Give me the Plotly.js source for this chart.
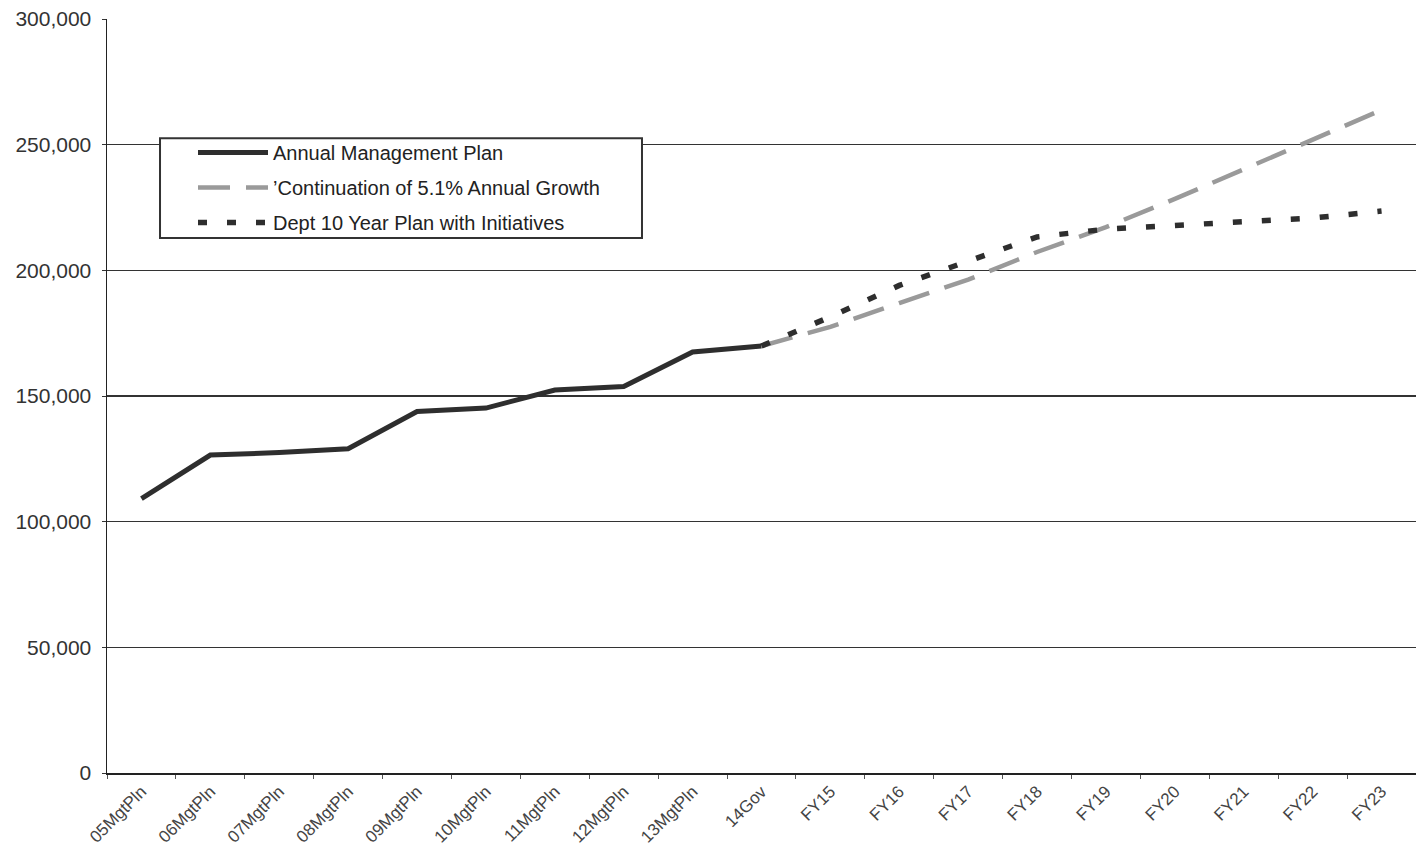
<!DOCTYPE html>
<html>
<head>
<meta charset="utf-8">
<script src="https://cdn.plot.ly/plotly-3.0.1.min.js"></script>
<style>html,body{margin:0;padding:0;background:#fff;}#chart{width:1416px;height:861px;}</style>
</head>
<body>
<div id="chart"></div>
<script>
// Category labels (x axis)
const categories = ["05MgtPln","06MgtPln","07MgtPln","08MgtPln","09MgtPln","10MgtPln","11MgtPln","12MgtPln","13MgtPln","14Gov",
  "FY15","FY16","FY17","FY18","FY19","FY20","FY21","FY22","FY23"];

// Annual Management Plan (05MgtPln .. 14Gov)
const annualCats = ["05MgtPln","06MgtPln","07MgtPln","08MgtPln","09MgtPln","10MgtPln","11MgtPln","12MgtPln","13MgtPln","14Gov"];
const annualValues = [109200, 126500, 127500, 129000, 143800, 145200, 152400, 153800, 167500, 169900];

// Projections (14Gov .. FY23)
const projCats = ["14Gov","FY15","FY16","FY17","FY18","FY19","FY20","FY21","FY22","FY23"];
const growthValues = [169900, 177500, 187000, 196300, 207300, 217200, 228400, 240300, 251900, 263800];
const deptValues   = [169900, 181500, 194000, 203500, 213300, 216400, 218000, 219600, 220800, 223600];

const seriesNames = ["Annual Management Plan", "\u2019Continuation of 5.1% Annual Growth", "Dept 10 Year Plan with Initiatives"];

const FONT = "Liberation Sans, Arial, sans-serif";

const traces = [
  {x: annualCats, y: annualValues, name: seriesNames[0], type: "scatter", mode: "lines",
   legendgroup: "a", line: {color: "#2e2e2e", width: 5}},
  {x: projCats, y: growthValues, name: seriesNames[1], type: "scatter", mode: "lines",
   legendgroup: "b", line: {color: "#9a9a9a", width: 4.5, dash: "32px,16px"}},
  {x: projCats, y: deptValues, name: seriesNames[2], type: "scatter", mode: "lines",
   legendgroup: "c", line: {color: "#2e2e2e", width: 5.5, dash: "9px,20px"}}
];

const layout = {
  width: 1416, height: 861,
  margin: {l: 107, r: 0, t: 19, b: 88},
  paper_bgcolor: "#fff", plot_bgcolor: "#fff",
  font: {family: FONT, color: "#333"},
  showlegend: true,
  shapes: [{
    type: "rect", xref: "paper", yref: "paper", layer: "above",
    x0: 0.0405, x1: 0.4087, y0: 0.7095, y1: 0.842,
    fillcolor: "#fff", line: {color: "#333", width: 2}
  }],
  legend: {
    x: 0.0657, y: 0.8488, xanchor: "left", yanchor: "top",
    bgcolor: "rgba(0,0,0,0)", borderwidth: 0,
    font: {family: FONT, size: 20, color: "#222"},
    itemwidth: 70, tracegroupgap: 6, traceorder: "grouped"
  },
  xaxis: {
    type: "category", categoryorder: "array", categoryarray: categories,
    range: [-0.5, categories.length - 0.5],
    showgrid: false, zeroline: false,
    showline: true, linecolor: "#222", linewidth: 2,
    ticks: "outside", tickson: "boundaries", ticklen: 4, tickcolor: "#555", tickwidth: 1,
    tickangle: -45, tickfont: {family: FONT, size: 17, color: "#444"}
  },
  yaxis: {
    range: [0, 300000], dtick: 50000, tick0: 0, tickformat: ",d",
    showgrid: true, gridcolor: "#333", gridwidth: 1.4,
    zeroline: false, showline: true, linecolor: "#222", linewidth: 1.5,
    ticks: "outside", ticklen: 4, tickcolor: "#333",
    tickfont: {family: FONT, size: 21, color: "#333"},
    ticklabelstandoff: 6
  }
};

Plotly.newPlot("chart", traces, layout, {displayModeBar: false, staticPlot: true});
</script>
</body>
</html>
